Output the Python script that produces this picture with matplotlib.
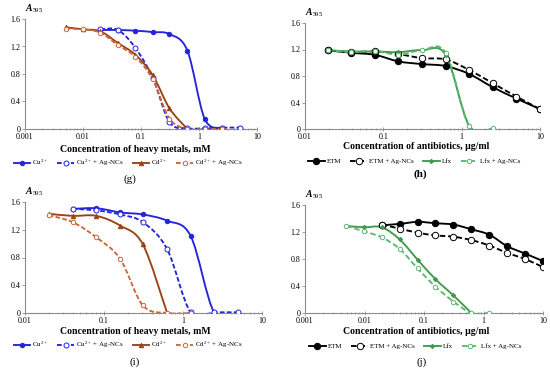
import numpy as np
import matplotlib
matplotlib.use("Agg")
import matplotlib.pyplot as plt
from matplotlib.path import Path
from matplotlib.patches import PathPatch
from matplotlib.lines import Line2D
from matplotlib.ticker import LogLocator, FixedLocator, NullFormatter

plt.rcParams['font.family'] = ['Liberation Serif', 'DejaVu Serif']
plt.rcParams['mathtext.fontset'] = 'custom'
plt.rcParams['mathtext.rm'] = 'Liberation Serif'
plt.rcParams['mathtext.it'] = 'Liberation Serif:italic'
plt.rcParams['mathtext.bf'] = 'Liberation Serif:italic:bold'

# ---- data ----
metalConc = [0.005, 0.01, 0.02, 0.04, 0.08, 0.16, 0.31, 0.63, 1.25, 2.5, 5]
abConc = [0.0049, 0.0098, 0.0195, 0.039, 0.078, 0.156, 0.3125, 0.625, 1.25, 2.5, 5, 10]

# panel g
gCu = [None, None, 1.44, 1.44, 1.43, 1.41, 1.38, 1.14, 0.15, 0.01, None]
gCuAg = [None, None, 1.45, 1.44, 1.18, 0.74, 0.10, 0.01, 0.01, 0.02, 0.02]
gCd = [1.48, 1.45, 1.42, 1.25, 1.08, 0.78, 0.30, 0.0, None, None, None]
gCdAg = [1.46, 1.45, 1.40, 1.22, 1.05, 0.72, 0.15, 0.0, 0.0, 0.0, None]

# panel i
iCu = [None, None, None, 1.50, 1.51, 1.45, 1.42, 1.33, 1.11, 0.0, 0.0]
iCuAg = [None, None, None, 1.50, 1.48, 1.42, 1.31, 0.92, 0.01, 0.01, 0.01]
iCd = [None, None, 1.43, 1.40, 1.40, 1.26, 0.99, 0.0, None, None, None]
iCdAg = [None, None, 1.41, 1.31, 1.09, 0.78, 0.11, 0.0, 0.0, None, None]

# panel h
hEtm = [None, None, 1.19, 1.15, 1.12, 1.02, 0.98, 0.95, 0.83, 0.63, 0.46, 0.30]
hEtmAg = [None, None, 1.19, 1.16, 1.17, 1.13, 1.07, 1.05, 0.89, 0.69, 0.49, 0.30]
hLfx = [None, None, 1.19, 1.17, 1.17, 1.16, 1.19, 1.12, 0.05, 0.0, None, None]
hLfxAg = [None, None, 1.19, 1.16, 1.18, 1.12, 1.19, 1.15, 0.04, 0.01, None, None]

# panel j
jEtm = [None, None, 1.30, 1.32, 1.35, 1.33, 1.31, 1.24, 1.16, 0.99, 0.88, 0.77]
jEtmAg = [None, None, 1.31, 1.25, 1.19, 1.15, 1.13, 1.08, 1.00, 0.89, 0.80, 0.68]
jLfx = [1.29, 1.27, 1.27, 1.09, 0.79, 0.50, 0.26, 0.0, None, None, None, None]
jLfxAg = [1.29, 1.21, 1.12, 0.95, 0.66, 0.39, 0.17, 0.0, 0.0, None, None, None]

metalLabels = ["Cu$^{2+}$", "Cu$^{2+}$ + Ag-NCs", "Cd$^{2+}$", "Cd$^{2+}$ + Ag-NCs"]
abLabels = ["ETM", "ETM + Ag-NCs", "Lfx", "Lfx + Ag-NCs"]

BLUE = "#2424d8"
BROWN = "#9a4416"
ORANGE = "#c8683c"
GREEN = "#3f9a4c"
LGREEN = "#5cb870"

metalStyles = [
    dict(color=BLUE, ls="-", marker="o", mfc=BLUE, ms=3.2),
    dict(color=BLUE, ls=(0, (2.5, 1.2)), marker="o", mfc="white", ms=3.6),
    dict(color=BROWN, ls="-", marker="^", mfc=BROWN, ms=3.2),
    dict(color=ORANGE, ls=(0, (2.5, 1.2)), marker="o", mfc="white", ms=3.2),
]
abStyles = [
    dict(color="black", ls="-", marker="o", mfc="black", ms=4.6),
    dict(color="black", ls=(0, (3, 1.5)), marker="o", mfc="white", ms=4.6),
    dict(color=GREEN, ls="-", marker="D", mfc=GREEN, ms=2.2),
    dict(color=LGREEN, ls=(0, (3, 1.5)), marker="o", mfc="white", ms=3.2),
]


def smoothPath(xs, ys):
    # Excel-like smoothed line: Catmull-Rom as cubic Bezier in log-x space
    lx = np.log10(xs)
    pts = np.column_stack([lx, ys])
    verts = [pts[0]]
    codes = [Path.MOVETO]
    n = len(pts)
    for k in range(n - 1):
        p0 = pts[k - 1] if k > 0 else pts[k]
        p1 = pts[k]
        p2 = pts[k + 1]
        p3 = pts[k + 2] if k + 2 < n else pts[k + 1]
        c1 = p1 + (p2 - p0) / 6.0
        c2 = p2 - (p3 - p1) / 6.0
        verts += [c1, c2, p2]
        codes += [Path.CURVE4] * 3
    verts = np.array(verts)
    verts[:, 0] = 10 ** verts[:, 0]
    return Path(verts, codes)


def drawSeries(ax, conc, vals, st):
    xs = np.array([c for c, v in zip(conc, vals) if v is not None])
    ys = np.array([v for v in vals if v is not None])
    patch = PathPatch(smoothPath(xs, ys), facecolor="none", edgecolor=st["color"],
                      lw=1.35, linestyle=st["ls"], zorder=2, clip_on=True)
    ax.add_patch(patch)
    ax.plot(xs, ys, linestyle="none", marker=st["marker"], color=st["color"],
            mfc=st["mfc"], mec=st["color"], ms=st["ms"], mew=0.7, zorder=3)


def styleAxes(ax, xmin, xmax):
    ax.set_xscale("log")
    ax.set_xlim(xmin, xmax)
    ax.set_ylim(0, 1.6)
    ax.set_yticks([0, 0.4, 0.8, 1.2, 1.6])
    ax.set_yticklabels(["0", "0.4", "0.8", "1.2", "1.6"])
    decades = [10.0 ** e for e in range(int(np.log10(xmin)), int(np.log10(xmax)) + 1)]
    ax.xaxis.set_major_locator(FixedLocator(decades))
    ax.set_xticklabels([("%g" % d) for d in decades])
    ax.xaxis.set_minor_locator(LogLocator(base=10, subs=np.arange(2, 10)))
    ax.xaxis.set_minor_formatter(NullFormatter())
    for s in ["top", "right"]:
        ax.spines[s].set_visible(False)
    for s in ["left", "bottom"]:
        ax.spines[s].set_color("#8c8c8c")
        ax.spines[s].set_linewidth(0.8)
    ax.tick_params(axis="x", which="major", direction="inout", length=3, width=0.6,
                   color="#8c8c8c", labelsize=5.8, pad=1.5)
    ax.tick_params(axis="x", which="minor", direction="inout", length=2, width=0.5,
                   color="#8c8c8c")
    ax.tick_params(axis="y", direction="out", length=2, width=0.6, color="#8c8c8c",
                   labelsize=5.8, pad=1.5)
    ax.text(0.0, 1.04, "$\\mathbf{A}_{595}$", transform=ax.transAxes, fontsize=7,
            ha="left", va="bottom")


def addLegend(fig, styles, labels, cx, cy):
    handles = [Line2D([], [], color=st["color"], ls=st["ls"], marker=st["marker"],
                      mfc=st["mfc"], mec=st["color"], ms=st["ms"], lw=1.35, mew=0.7)
               for st in styles]
    fig.legend(handles, labels, loc="center", bbox_to_anchor=(cx / 550, 1 - cy / 370),
               ncol=4, frameon=False, fontsize=5, handlelength=2.4, handletextpad=0.3,
               columnspacing=1.3, borderpad=0)


fig = plt.figure(figsize=(5.5, 3.7), dpi=100)

axG = fig.add_axes([25 / 550, 1 - 129 / 370, 232 / 550, 110 / 370])
axH = fig.add_axes([305 / 550, 1 - 129 / 370, 235 / 550, 106 / 370])
axI = fig.add_axes([25 / 550, 1 - 313 / 370, 237 / 550, 111 / 370])
axJ = fig.add_axes([305 / 550, 1 - 313 / 370, 238 / 550, 108 / 370])

for vals, st in zip([gCu, gCuAg, gCd, gCdAg], metalStyles):
    drawSeries(axG, metalConc, vals, st)
for vals, st in zip([iCu, iCuAg, iCd, iCdAg], metalStyles):
    drawSeries(axI, metalConc, vals, st)
for vals, st in zip([hEtm, hEtmAg, hLfx, hLfxAg], abStyles):
    drawSeries(axH, abConc, vals, st)
for vals, st in zip([jEtm, jEtmAg, jLfx, jLfxAg], abStyles):
    drawSeries(axJ, abConc, vals, st)

styleAxes(axG, 0.001, 10)
styleAxes(axH, 0.01, 10)
styleAxes(axI, 0.01, 10)
styleAxes(axJ, 0.001, 10)

xlabFont = dict(fontsize=7, fontweight="bold", ha="center", va="center")
fig.text(135 / 550, 1 - 149 / 370, "Concentration of heavy metals, mM", **xlabFont)
fig.text(416 / 550, 1 - 147 / 370, "Concentration of antibiotics, μg/ml", **xlabFont)
fig.text(135 / 550, 1 - 331 / 370, "Concentration of heavy metals, mM", **xlabFont)
fig.text(416 / 550, 1 - 331 / 370, "Concentration of antibiotics, μg/ml", **xlabFont)

addLegend(fig, metalStyles, metalLabels, 128, 163)
addLegend(fig, abStyles, abLabels, 414, 161)
addLegend(fig, metalStyles, metalLabels, 128, 345)
addLegend(fig, abStyles, abLabels, 415, 346)

panFont = dict(fontsize=8, ha="center", va="center")
fig.text(130 / 550, 1 - 179 / 370, "(g)", **panFont)
fig.text(420 / 550, 1 - 174 / 370, "(h)", fontweight="bold", **panFont)
fig.text(135 / 550, 1 - 362 / 370, "(i)", **panFont)
fig.text(422 / 550, 1 - 362 / 370, "(j)", **panFont)

fig.savefig("out.png", dpi=100)
